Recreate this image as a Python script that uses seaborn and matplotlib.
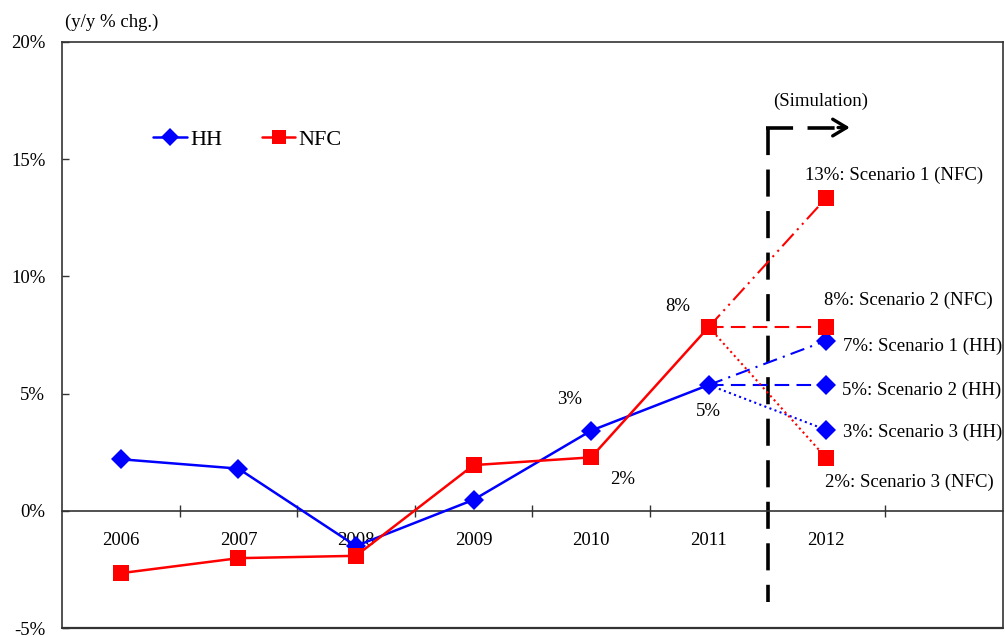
import numpy as np
import pandas as pd
import matplotlib
matplotlib.use("Agg")
import matplotlib.pyplot as plt
import seaborn as sns

# ---------------- data ----------------
years = ["2006", "2007", "2008", "2009", "2010", "2011", "2012"]
hh_values = [2.20, 1.80, -1.50, 0.47, 3.42, 5.37]        # 2006-2011
nfc_values = [-2.66, -2.02, -1.92, 1.95, 2.28, 7.84]     # 2006-2011
hh_scenarios = [7.26, 5.37, 3.45]                        # 2012, scenarios 1-3
nfc_scenarios = [13.35, 7.84, 2.25]                      # 2012, scenarios 1-3
scenario_names = ["Scenario 1", "Scenario 2", "Scenario 3"]
y_ticks = [-5, 0, 5, 10, 15, 20]

# ---------------- style ----------------
sns.set_theme(style="white")
plt.rcParams["font.family"] = ["Liberation Serif", "DejaVu Serif"]
plt.rcParams["text.color"] = "black"

BLUE = "#0000FF"
RED = "#FF0000"
FS = 13.5
D_SIZE = 10.5
S_SIZE = 11.5

fig = plt.figure(figsize=(10.05, 6.37), dpi=100)
ax = fig.add_axes([0.0617, 0.0141, 0.936, 0.92])

x_hist = list(range(len(hh_values)))
df = pd.DataFrame({
    "x": x_hist * 2,
    "value": hh_values + nfc_values,
    "series": ["HH"] * len(hh_values) + ["NFC"] * len(nfc_values),
})

# scenario lines (2011 -> 2012)
i11 = len(hh_values) - 1
i12 = i11 + 1
hh_styles = [(0, (7, 3, 1, 3)), (0, (7, 3.5)), (0, (1, 1.6))]
nfc_styles = [(0, (8, 2.5, 1, 2.5, 1, 2.5)), (0, (7, 3.5)), (0, (1, 1.6))]
for k in range(3):
    d_h = pd.DataFrame({"x": [i11, i12], "value": [hh_values[-1], hh_scenarios[k]]})
    sns.lineplot(data=d_h, x="x", y="value", ax=ax, color=BLUE, lw=1.5,
                 linestyle=hh_styles[k], marker="D", markersize=D_SIZE,
                 markevery=[1], markeredgewidth=0, zorder=3)
    d_n = pd.DataFrame({"x": [i11, i12], "value": [nfc_values[-1], nfc_scenarios[k]]})
    sns.lineplot(data=d_n, x="x", y="value", ax=ax, color=RED, lw=1.5,
                 linestyle=nfc_styles[k], marker="s", markersize=S_SIZE,
                 markevery=[1], markeredgewidth=0, zorder=3)

# main series
sns.lineplot(data=df, x="x", y="value", hue="series", style="series",
             palette={"HH": BLUE, "NFC": RED},
             markers={"HH": "D", "NFC": "s"}, dashes=False,
             lw=1.8, markersize=S_SIZE, markeredgewidth=0, ax=ax, zorder=4)
for line in ax.get_lines():
    if line.get_marker() == "D":
        line.set_markersize(D_SIZE)

# legend
handles = [
    plt.Line2D([], [], color=BLUE, lw=1.8, marker="D", markersize=9, markeredgewidth=0),
    plt.Line2D([], [], color=RED, lw=1.8, marker="s", markersize=10, markeredgewidth=0),
]
ax.legend(handles, ["HH", "NFC"], loc="center left", bbox_to_anchor=(0.097, 0.834),
          ncol=2, frameon=False, fontsize=16, handlelength=1.5, handletextpad=0.15,
          columnspacing=1.8, borderpad=0, borderaxespad=0)

# axes
for s in ax.spines.values():
    s.set_color("#333333")
    s.set_linewidth(1.2)
ax.spines["bottom"].set_position(("data", 0))
ax.axhline(-5, color="#333333", lw=1.6, clip_on=False, zorder=1)

ax.set_xlim(-0.5, 7.5)
ax.set_ylim(-5, 20)
ax.set_xticks(range(len(years)))
ax.set_xticklabels(years)
ax.set_xticks(np.arange(0.5, 7.0, 1.0), minor=True)
ax.set_yticks(y_ticks)
ax.set_yticklabels([f"{t}%" for t in y_ticks])
ax.set_xlabel("")
ax.set_ylabel("")
ax.tick_params(axis="x", which="major", length=0, pad=15, labelsize=FS, labelcolor="black")
ax.tick_params(axis="x", which="minor", direction="inout", length=9, width=1,
               color="#333333", bottom=True)
ax.tick_params(axis="y", direction="in", length=5, width=1, color="#333333",
               pad=12, left=True, labelsize=FS, labelcolor="black")

fig.text(0.065, 1 - 22 / 637, "(y/y % chg.)", fontsize=FS, va="center", ha="left")

# simulation marker
sim_x = 5.5
sim_bottom, sim_top = -3.9, 16.35
arrow_tip = 6.2
sim_style = dict(color="black", lw=2.6, linestyle=(0, (7.5, 4)),
                 dash_capstyle="butt", zorder=2)
ax.plot([sim_x, sim_x], [sim_top, sim_bottom], **sim_style)
ax.plot([sim_x - 0.01, arrow_tip - 0.1], [sim_top, sim_top], **sim_style)
ax.annotate("", xy=(arrow_tip, sim_top), xytext=(arrow_tip - 0.1, sim_top),
            arrowprops=dict(arrowstyle="->,head_length=0.5,head_width=0.3", lw=2.4,
                            color="black", shrinkA=0, shrinkB=0, mutation_scale=20))
ax.text(5.95, 17.45, "(Simulation)", fontsize=FS, ha="center", va="center")

# data labels
ax.text(3.82, 4.73, f"{round(hh_values[4])}%", fontsize=FS, ha="center", va="center")
ax.text(4.27, 1.35, f"{round(nfc_values[4])}%", fontsize=FS, ha="center", va="center")
ax.text(4.74, 8.7, f"{round(nfc_values[5])}%", fontsize=FS, ha="center", va="center")
ax.text(5.0, 4.22, f"{round(hh_values[5])}%", fontsize=FS, ha="center", va="center")

ax.text(6.58, 14.3, f"{round(nfc_scenarios[0])}%: {scenario_names[0]} (NFC)", fontsize=FS, ha="center", va="center")
ax.text(6.70, 8.96, f"{round(nfc_scenarios[1])}%: {scenario_names[1]} (NFC)", fontsize=FS, ha="center", va="center")
ax.text(6.14, 7.0, f"{round(hh_scenarios[0])}%: {scenario_names[0]} (HH)", fontsize=FS, ha="left", va="center")
ax.text(6.13, 5.16, f"{round(hh_scenarios[1])}%: {scenario_names[1]} (HH)", fontsize=FS, ha="left", va="center")
ax.text(6.14, 3.36, f"{round(hh_scenarios[2])}%: {scenario_names[2]} (HH)", fontsize=FS, ha="left", va="center")
ax.text(5.99, 1.23, f"{round(nfc_scenarios[2])}%: {scenario_names[2]} (NFC)", fontsize=FS, ha="left", va="center")

fig.savefig("out.png", dpi=100)
